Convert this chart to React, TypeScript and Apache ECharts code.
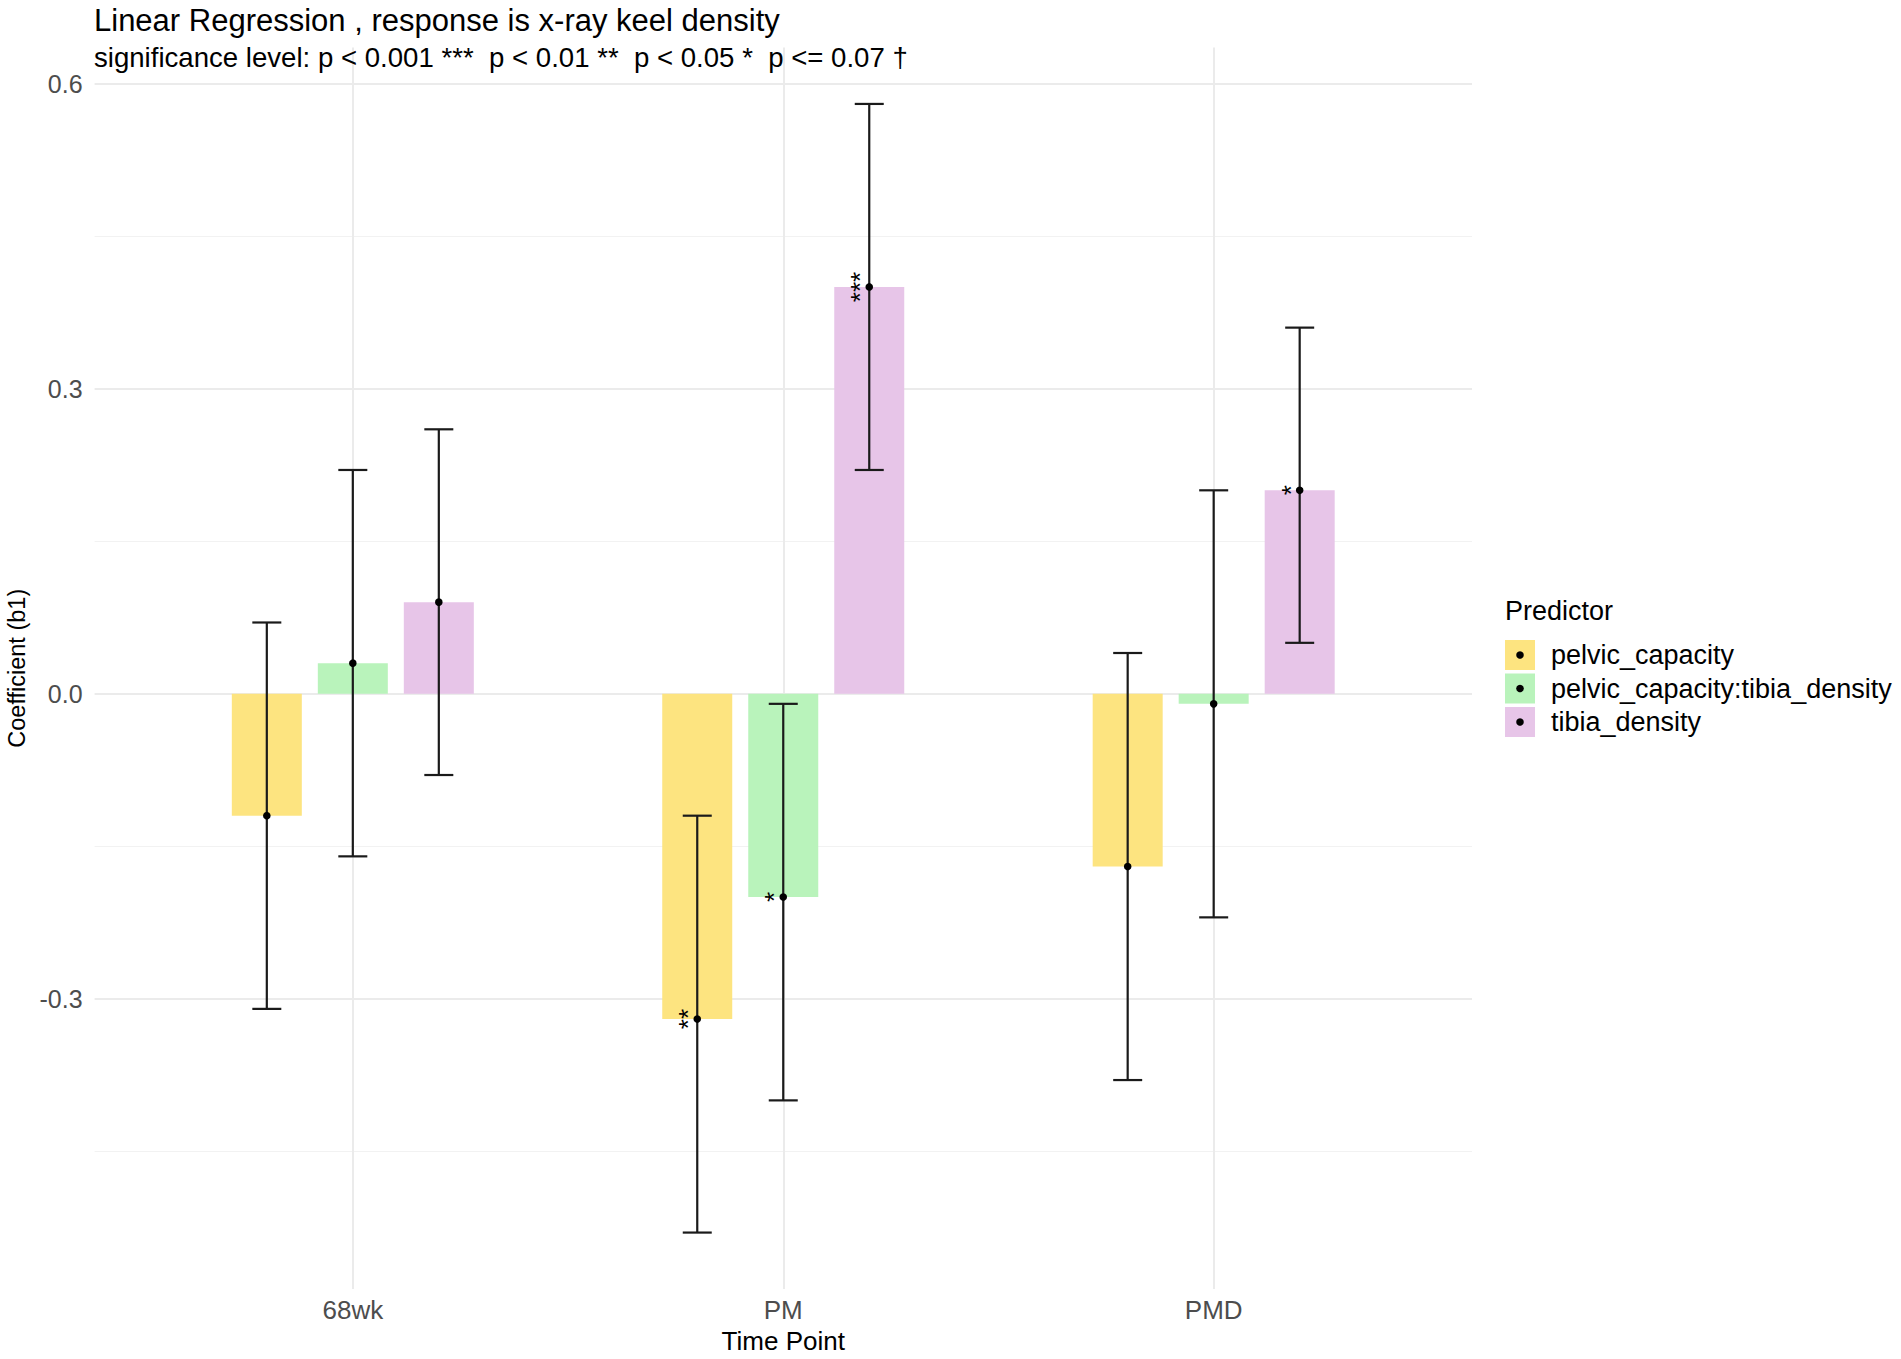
import React, { useEffect, useRef } from "react";
import * as echarts from "echarts";

const categories = ["68wk", "PM", "PMD"];
const predictors = ["pelvic_capacity", "pelvic_capacity:tibia_density", "tibia_density"];
const colors = ["#FDE480", "#B9F3BB", "#E7C5E8"];

const pelvicCoef = [-0.12, -0.32, -0.17];
const pelvicLow = [-0.31, -0.53, -0.38];
const pelvicHigh = [0.07, -0.12, 0.04];
const pelvicStars = ["", "**", ""];

const interCoef = [0.03, -0.2, -0.01];
const interLow = [-0.16, -0.4, -0.22];
const interHigh = [0.22, -0.01, 0.2];
const interStars = ["", "*", ""];

const tibiaCoef = [0.09, 0.4, 0.2];
const tibiaLow = [-0.08, 0.22, 0.05];
const tibiaHigh = [0.26, 0.58, 0.36];
const tibiaStars = ["", "***", "*"];

const yTickLabels = [-0.3, 0, 0.3, 0.6];
const yMinorLines = [-0.45, -0.15, 0.15, 0.45];

const coefs = [pelvicCoef, interCoef, tibiaCoef];
const lows = [pelvicLow, interLow, tibiaLow];
const highs = [pelvicHigh, interHigh, tibiaHigh];
const stars = [pelvicStars, interStars, tibiaStars];

const FONT = "'Liberation Sans', Arial, Helvetica, sans-serif";
const Y_MIN = -0.5855;
const Y_MAX = 0.6355;
const BAR_W = 70;
const BAR_GAP = 16;

export default function App() {
  const ref = useRef<HTMLDivElement>(null);
  useEffect(() => {
    document.body.style.margin = "0";
    const chart = echarts.init(ref.current!, null, { renderer: "svg" });

    const barSeries = predictors.map((name, i) => ({
      name,
      type: "bar",
      xAxisIndex: 0,
      yAxisIndex: 0,
      barWidth: BAR_W,
      barGap: ((BAR_GAP / BAR_W) * 100).toFixed(2) + "%",
      itemStyle: { color: colors[i] },
      data: coefs[i],
      z: 2,
    }));

    const errSeries = predictors.map((name, i) => ({
      name: name + "_err",
      type: "custom",
      xAxisIndex: 0,
      yAxisIndex: 0,
      z: 5,
      data: categories.map((_, k) => [k, coefs[i][k], lows[i][k], highs[i][k]]),
      renderItem: (params: any, api: any) => {
        const k = api.value(0);
        const off = (i - 1) * (BAR_W + BAR_GAP);
        const p = api.coord([k, api.value(1)]);
        const x = p[0] + off;
        const y = p[1];
        const yLo = api.coord([k, api.value(2)])[1];
        const yHi = api.coord([k, api.value(3)])[1];
        const cap = 14.5;
        const ls = { stroke: "#1a1a1a", lineWidth: 2.2 };
        const st = stars[i][params.dataIndex];
        const children: any[] = [
          { type: "line", shape: { x1: x, y1: yLo, x2: x, y2: yHi }, style: ls },
          { type: "line", shape: { x1: x - cap, y1: yHi, x2: x + cap, y2: yHi }, style: ls },
          { type: "line", shape: { x1: x - cap, y1: yLo, x2: x + cap, y2: yLo }, style: ls },
          { type: "circle", shape: { cx: x, cy: y, r: 3.8 }, style: { fill: "#000" } },
        ];
        if (st) {
          children.push({
            type: "text",
            x: x - 9,
            y: y,
            rotation: Math.PI / 2,
            style: {
              text: st,
              x: 0,
              y: 0,
              align: "center",
              verticalAlign: "middle",
              fontSize: 26,
              fontFamily: FONT,
              fill: "#000",
            },
          });
        }
        return { type: "group", children };
      },
    }));

    const vGridSeries = {
      name: "vgrid",
      type: "line",
      xAxisIndex: 0,
      yAxisIndex: 0,
      data: [],
      silent: true,
      z: 0,
      markLine: {
        silent: true,
        symbol: "none",
        z: 0,
        label: { show: false },
        lineStyle: { color: "#EBEBEB", width: 2, type: "solid" },
        data: categories.map((c) => ({ xAxis: c })),
      },
    };

    const hGridSeries = {
      name: "hgrid",
      type: "line",
      xAxisIndex: 1,
      yAxisIndex: 1,
      data: [],
      silent: true,
      z: 0,
      markLine: {
        silent: true,
        symbol: "none",
        z: 0,
        label: { show: false },
        data: [
          ...yMinorLines.map((v) => ({ yAxis: v, lineStyle: { color: "#F2F2F2", width: 1.2, type: "solid" } })),
          ...yTickLabels.map((v) => ({ yAxis: v, lineStyle: { color: "#EBEBEB", width: 2, type: "solid" } })),
        ],
      },
    };

    const legendGraphics: any[] = [
      {
        type: "text",
        left: 1505,
        top: 597,
        style: { text: "Predictor", fontSize: 27, fontFamily: FONT, fill: "#000" },
      },
    ];
    predictors.forEach((name, i) => {
      const top = 640 + i * 33.5;
      legendGraphics.push({
        type: "rect",
        shape: { x: 1505, y: top, width: 30, height: 30 },
        style: { fill: colors[i] },
      });
      legendGraphics.push({
        type: "circle",
        shape: { cx: 1520, cy: top + 15, r: 3.8 },
        style: { fill: "#000" },
      });
      legendGraphics.push({
        type: "text",
        x: 1551,
        y: top + 15,
        style: {
          text: name,
          fontSize: 27,
          fontFamily: FONT,
          fill: "#000",
          verticalAlign: "middle",
        },
      });
    });

    chart.setOption({
      animation: false,
      backgroundColor: "#ffffff",
      title: {
        text: "Linear Regression , response is x-ray keel density",
        subtext: "significance level: p < 0.001 ***  p < 0.01 **  p < 0.05 *  p <= 0.07 †",
        left: 94,
        top: 2,
        padding: 0,
        itemGap: 3,
        textStyle: { fontSize: 31, fontWeight: "normal", color: "#000", fontFamily: FONT, lineHeight: 36 },
        subtextStyle: { fontSize: 27.6, color: "#000", fontFamily: FONT, lineHeight: 32 },
      },
      grid: [
        { left: 137.6, width: 1291.3, top: 47.5, height: 1241.5, containLabel: false, outerBoundsMode: "none" },
        { left: 94.6, width: 1377.4, top: 47.5, height: 1241.5, containLabel: false, outerBoundsMode: "none" },
      ],
      xAxis: [
        {
          type: "category",
          gridIndex: 0,
          data: categories,
          axisLine: { show: false },
          axisTick: { show: false },
          splitLine: { show: false },
          axisLabel: { color: "#4D4D4D", fontSize: 26, fontFamily: FONT, margin: 8 },
          name: "Time Point",
          nameLocation: "middle",
          nameGap: 39,
          nameTextStyle: { color: "#000", fontSize: 26, fontFamily: FONT },
        },
        {
          type: "value",
          gridIndex: 1,
          min: 0,
          max: 1,
          show: false,
        },
      ],
      yAxis: [
        {
          type: "value",
          gridIndex: 0,
          min: Y_MIN,
          max: Y_MAX,
          show: false,
          splitLine: { show: false },
        },
        {
          type: "value",
          gridIndex: 1,
          min: Y_MIN,
          max: Y_MAX,
          axisLine: { show: false },
          axisTick: { show: false },
          splitLine: { show: false },
          axisLabel: {
            color: "#4D4D4D",
            fontSize: 25,
            fontFamily: FONT,
            margin: 12,
            customValues: yTickLabels,
            formatter: (v: number) => v.toFixed(1),
          },
          name: "Coefficient (b1)",
          nameLocation: "middle",
          nameGap: 60.5,
          nameTextStyle: { color: "#000", fontSize: 23.5, fontFamily: FONT },
        },
      ],
      graphic: legendGraphics,
      series: [hGridSeries, vGridSeries, ...barSeries, ...errSeries],
    });
    return () => chart.dispose();
  }, []);
  return <div ref={ref} style={{ width: 1901, height: 1359 }} />;
}
